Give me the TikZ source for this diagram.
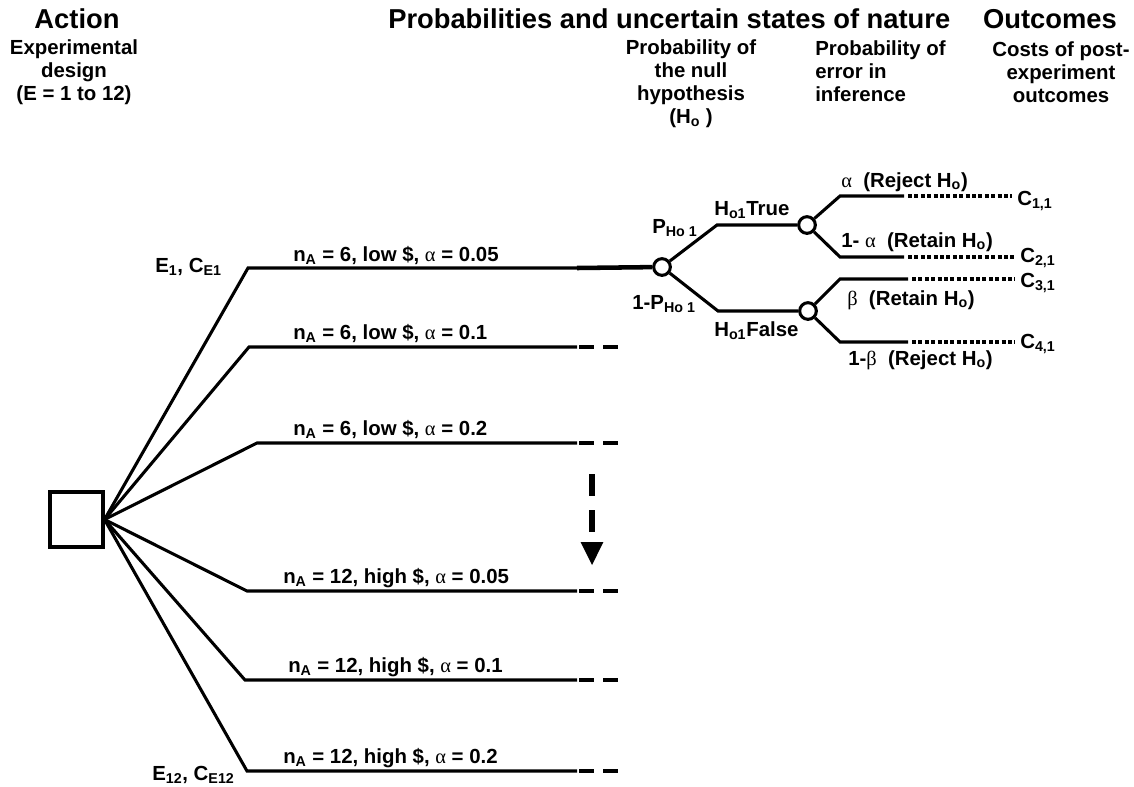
\documentclass[tikz,border=0pt]{standalone}
\usepackage{fontspec}
\setmainfont{Liberation Sans}
\newfontfamily\grkfont{Liberation Serif}
\newcommand\gr[1]{{\grkfont\mdseries #1}}
\newcommand\subs[1]{\textsubscript{#1}}
\begin{document}
\begin{tikzpicture}[x=0.75pt,y=-0.75pt,
  ln/.style={line width=2.3pt},
  thk/.style={line width=3.4pt},
  dsh/.style={line width=3.2pt,dash pattern=on 11.25pt off 6.75pt},
  dotl/.style={line width=3pt,dash pattern=on 3pt off 1.8pt},
  chance/.style={circle,draw,line width=2.3pt,fill=white,minimum size=12.5pt,inner sep=0pt},
  lbl/.style={font=\bfseries\fontsize{15.3}{18}\selectfont,inner sep=0pt},
  hd/.style={font=\bfseries\fontsize{20.5}{24}\selectfont,inner sep=0pt},
  sh/.style={font=\bfseries\fontsize{15.3}{17.3}\selectfont,align=center,inner sep=0pt}]
\useasboundingbox (0,0) rectangle (1134,786);

% headings
\node[hd,anchor=base] (hAct) at (77,28) {Action};
\node[hd,anchor=base west] (hProb) at (388,28) {Probabilities and uncertain states of nature};
\node[hd,anchor=base east] (hOut) at (1117,28) {Outcomes};
\node[sh] (hExp) at (74,72) {Experimental\\design\\(E = 1 to 12)};
\node[sh] (hNull) at (691,84) {Probability of\\the null\\hypothesis\\(H\subs{o} )};
\node[sh,align=left,anchor=north west] (hErr) at (815,40) {Probability of\\error in\\inference};
\node[sh] (hCost) at (1061,72) {Costs of post-\\experiment\\outcomes};

% decision box
\node[draw,line width=2.3pt,minimum width=39.75pt,minimum height=41.25pt,inner sep=0pt] (dec) at (76.5,519.5) {};

% branch corners
\coordinate (b1) at (248,268); \coordinate (e1) at (577,268);
\coordinate (b2) at (249,347); \coordinate (e2) at (577,347); \coordinate (f2) at (620,347);
\coordinate (b3) at (257,443); \coordinate (e3) at (577,443); \coordinate (f3) at (620,443);
\coordinate (b4) at (247,591); \coordinate (e4) at (577,591); \coordinate (f4) at (620,591);
\coordinate (b5) at (245,680); \coordinate (e5) at (577,680); \coordinate (f5) at (620,680);
\coordinate (b6) at (247,771); \coordinate (e6) at (577,771); \coordinate (f6) at (620,771);

\node[chance] (c1) at (662,267) {};
\node[chance] (c2) at (807,225) {};
\node[chance] (c3) at (808,311) {};

\draw[ln] (dec.east) -- (b1) -- (e1);
\draw[thk] (e1) -- (c1);
\foreach \i in {2,...,6}{
  \draw[ln] (dec.east) -- (b\i) -- (e\i);
  \draw[dsh] ([xshift=1.5pt]e\i) -- (f\i);
}

% dashed downward arrow
\coordinate (aTop) at (592,474);
\coordinate (aEnd) at (592,532);
\coordinate (aTip) at (592,565);
\coordinate (aBase) at (592,542);
\draw[line width=4.2pt,dash pattern=on 16.5pt off 10.5pt] (aTop) -- (aEnd);
\fill ([xshift=-8.6pt]aBase) -- ([xshift=8.6pt]aBase) -- (aTip) -- cycle;

% branch labels
\node[lbl,anchor=base west] (l1) at (293,261) {n\subs{A} = 6, low \$, \gr{α} = 0.05};
\node[lbl,anchor=base west] (l2) at (293,339) {n\subs{A} = 6, low \$, \gr{α} = 0.1};
\node[lbl,anchor=base west] (l3) at (293,435) {n\subs{A} = 6, low \$, \gr{α} = 0.2};
\node[lbl,anchor=base west] (l4) at (283,583) {n\subs{A} = 12, high \$, \gr{α} = 0.05};
\node[lbl,anchor=base west] (l5) at (288,672) {n\subs{A} = 12, high \$, \gr{α} = 0.1};
\node[lbl,anchor=base west] (l6) at (283,763) {n\subs{A} = 12, high \$, \gr{α} = 0.2};
\node[lbl,anchor=base west] (E1) at (155,272) {E\subs{1}, C\subs{E1}};
\node[lbl,anchor=base west] (E12) at (152,780) {E\subs{12}, C\subs{E12}};

% chance tree
\coordinate (u1) at (717,225);
\coordinate (d1) at (718,311);
\draw[ln] (c1) -- (u1) -- (c2);
\draw[ln] (c1) -- (d1) -- (c3);

\node[lbl,anchor=base west] (C11) at (1017,205) {C\subs{1,1}};
\node[lbl,anchor=base west] (C21) at (1020,262) {C\subs{2,1}};
\node[lbl,anchor=base west] (C31) at (1020,287) {C\subs{3,1}};
\node[lbl,anchor=base west] (C41) at (1020,348) {C\subs{4,1}};

\coordinate (g1) at (840,196); \coordinate (h1) at (904,196);
\coordinate (g2) at (840,257); \coordinate (h2) at (904,257);
\coordinate (g3) at (840,279); \coordinate (h3) at (908,279);
\coordinate (g4) at (840,342); \coordinate (h4) at (908,342);
\draw[ln] (c2) -- (g1) -- (h1);
\draw[ln] (c2) -- (g2) -- (h2);
\draw[ln] (c3) -- (g3) -- (h3);
\draw[ln] (c3) -- (g4) -- (h4);
\draw[dotl] ([xshift=3pt]h1) -- ([xshift=-4pt]h1 -| C11.west);
\draw[dotl] ([xshift=3pt]h2) -- ([xshift=-4pt]h2 -| C21.west);
\draw[dotl] ([xshift=3pt]h3) -- ([xshift=-4pt]h3 -| C31.west);
\draw[dotl] ([xshift=3pt]h4) -- ([xshift=-4pt]h4 -| C41.west);

\node[lbl,anchor=base west] (pT) at (652,233) {P\subs{Ho 1}};
\node[lbl,anchor=base west] (pF) at (632,309) {1-P\subs{Ho 1}};
\node[lbl,anchor=base west] (hT) at (714,215) {H\subs{o1}True};
\node[lbl,anchor=base west] (hF) at (714,336) {H\subs{o1}False};
\node[lbl,anchor=base west] (r1) at (841,187) {\gr{α}\ \ (Reject H\subs{o})};
\node[lbl,anchor=base west] (r2) at (841,247) {1- \gr{α}\ \ (Retain H\subs{o})};
\node[lbl,anchor=base west] (r3) at (847,305) {\gr{β}\ \ (Retain H\subs{o})};
\node[lbl,anchor=base west] (r4) at (848,365) {1-\gr{β}\ \ (Reject H\subs{o})};
\end{tikzpicture}
\end{document}
